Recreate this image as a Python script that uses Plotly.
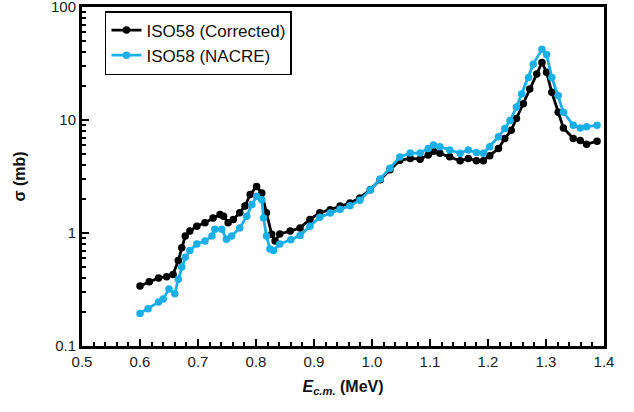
import plotly.graph_objects as go

# ISO58 (Corrected)
e_corr = [0.600, 0.616, 0.632, 0.646, 0.657, 0.666, 0.672, 0.678, 0.686, 0.698,
          0.712, 0.726, 0.738, 0.744, 0.752, 0.761, 0.772, 0.781, 0.790, 0.801,
          0.810, 0.818, 0.827, 0.833, 0.841, 0.859, 0.876, 0.893, 0.910, 0.928,
          0.945, 0.962, 0.979, 0.997, 1.014, 1.031, 1.048, 1.066, 1.083, 1.097,
          1.106, 1.117, 1.134, 1.152, 1.166, 1.180, 1.192, 1.203, 1.218, 1.229,
          1.240, 1.249, 1.261, 1.272, 1.284, 1.293, 1.301, 1.310, 1.321, 1.330,
          1.347, 1.359, 1.370, 1.388]
s_corr = [0.34, 0.37, 0.40, 0.41, 0.43, 0.57, 0.74, 0.94, 1.04, 1.15,
          1.23, 1.36, 1.46, 1.41, 1.23, 1.32, 1.51, 1.73, 2.19, 2.58,
          2.26, 1.51, 0.975, 0.85, 0.98, 1.04, 1.11, 1.32, 1.51, 1.61,
          1.73, 1.84, 2.04, 2.42, 2.96, 3.62, 4.4, 4.57, 4.5, 4.9,
          5.3, 5.07, 4.73, 4.35, 4.57, 4.35, 4.35, 4.83, 5.6, 6.86,
          8.1, 10.3, 13.9, 18.8, 25.5, 32.3, 26.4, 17.6, 11.7, 8.5,
          6.86, 6.6, 6.1, 6.5]

# ISO58 (NACRE)
e_nacre = [0.600, 0.614, 0.632, 0.640, 0.650, 0.660, 0.666, 0.672, 0.678, 0.686,
           0.698, 0.712, 0.724, 0.729, 0.741, 0.749, 0.758, 0.772, 0.784, 0.793,
           0.801, 0.810, 0.813, 0.818, 0.824, 0.830, 0.841, 0.860, 0.876, 0.893,
           0.910, 0.928, 0.945, 0.962, 0.979, 0.997, 1.014, 1.031, 1.048, 1.066,
           1.083, 1.097, 1.106, 1.117, 1.134, 1.152, 1.166, 1.180, 1.192, 1.203,
           1.218, 1.229, 1.238, 1.249, 1.258, 1.270, 1.278, 1.293, 1.301, 1.310,
           1.321, 1.330, 1.347, 1.359, 1.370, 1.388]
s_nacre = [0.194, 0.214, 0.245, 0.26, 0.32, 0.29, 0.39, 0.50, 0.61, 0.70,
           0.80, 0.85, 0.94, 1.08, 1.08, 0.88, 0.94, 1.11, 1.41, 1.79,
           2.11, 1.97, 1.36, 0.94, 0.72, 0.70, 0.80, 0.87, 0.95, 1.15,
           1.38, 1.50, 1.62, 1.74, 1.95, 2.4, 3.0, 3.75, 4.7, 5.1,
           5.1, 5.6, 6.0, 5.8, 5.42, 5.07, 5.42, 5.16, 5.07, 5.8,
           7.1, 8.4, 9.9, 13.0, 17.0, 23.8, 31.2, 42.2, 38, 23.8,
           16.5, 11.7, 9.0, 8.5, 8.7, 9.0]

BLACK = "#000000"
BLUE = "#1aafe6"
FONT = "Arial, Liberation Sans, sans-serif"

fig = go.Figure()
fig.add_trace(go.Scatter(x=e_corr, y=s_corr, mode="lines+markers", name="ISO58 (Corrected)",
                         line=dict(color=BLACK, width=2.8), marker=dict(color=BLACK, size=7.5)))
fig.add_trace(go.Scatter(x=e_nacre, y=s_nacre, mode="lines+markers", name="ISO58 (NACRE)",
                         line=dict(color=BLUE, width=2.8), marker=dict(color=BLUE, size=7.5)))

axis_font = dict(family=FONT, size=15, color="#222")
fig.update_layout(
    width=634, height=412,
    margin=dict(l=82, r=30, t=7, b=66, autoexpand=False),
    paper_bgcolor="white", plot_bgcolor="white",
    showlegend=True,
    legend=dict(x=0.044, y=0.988, xanchor="left", yanchor="top",
                bordercolor="black", borderwidth=1.5, bgcolor="white",
                font=dict(family=FONT, size=17, color="#111"),
                itemwidth=30, tracegroupgap=4),
    font=axis_font,
)
fig.update_xaxes(range=[0.5, 1.4], tickmode="linear", tick0=0.5, dtick=0.1, tickformat=".1f",
                 ticks="inside", ticklen=7, tickwidth=1.5, tickcolor="black",
                 minor=dict(ticks="inside", ticklen=4, tick0=0.5, dtick=0.02, tickcolor="black", tickwidth=1.5),
                 showline=True, linecolor="black", linewidth=3, mirror=True,
                 showgrid=False, zeroline=False, tickfont=axis_font, automargin=False,
                 ticklabeloverflow="allow",
                 title=dict(text="<b><i>E</i><sub><i>c.m.</i></sub> (MeV)</b>", standoff=12,
                            font=dict(family=FONT, size=16, color="#111")))
fig.update_yaxes(type="log", range=[-1, 2], tickmode="linear", tick0=0, dtick=1,
                 ticks="inside", ticklen=7, tickwidth=1.5, tickcolor="black",
                 minor=dict(ticks="inside", ticklen=4, dtick="D1", tickcolor="black", tickwidth=1.5),
                 showline=True, linecolor="black", linewidth=3, mirror=True,
                 showgrid=False, zeroline=False, tickfont=axis_font, automargin=False,
                 ticklabeloverflow="allow",
                 title=dict(text="<b>σ (mb)</b>", standoff=22,
                            font=dict(family=FONT, size=16, color="#111")))

fig.write_html("out.html", config={"displayModeBar": False},
               post_script="document.body.style.margin='0';")
